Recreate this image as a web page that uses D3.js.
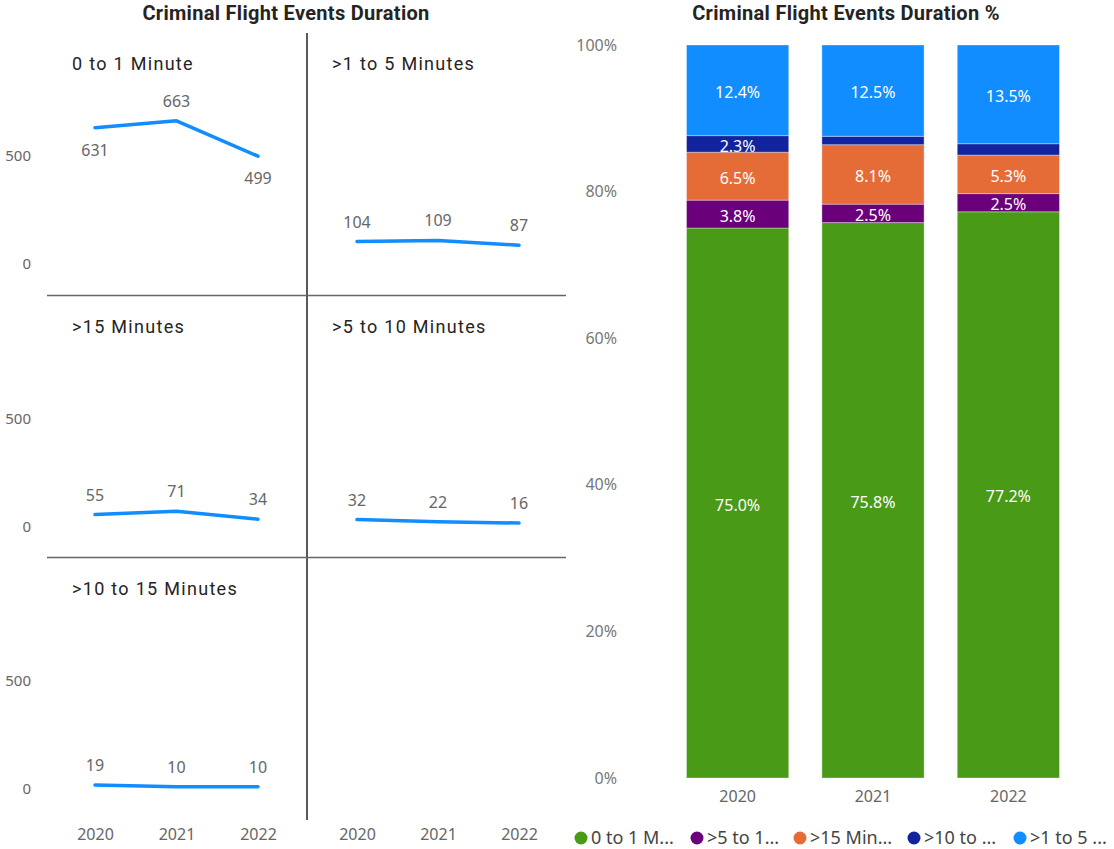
<!DOCTYPE html>
<html><head><meta charset="utf-8">
<script src="https://cdn.jsdelivr.net/npm/d3@7/dist/d3.min.js"></script>
<style>
body{margin:0;background:#fff;}
svg{display:block;}
</style></head>
<body>
<svg id="c" width="1114" height="849"></svg>
<script>
// ---------- DATA ----------
const years = ["2020", "2021", "2022"];
const cat01 = [631, 663, 499];     // 0 to 1 Minute
const cat1to5 = [104, 109, 87];    // >1 to 5 Minutes
const cat15plus = [55, 71, 34];    // >15 Minutes
const cat5to10 = [32, 22, 16];     // >5 to 10 Minutes
const cat10to15 = [19, 10, 10];    // >10 to 15 Minutes
const seriesNames = ["0 to 1 Minute", ">1 to 5 Minutes", ">15 Minutes", ">5 to 10 Minutes", ">10 to 15 Minutes"];
const legendLabels = ["0 to 1 M...", ">5 to 1...", ">15 Min...", ">10 to ...", ">1 to 5 ..."];
const yTicksLine = [0, 500];
const yTicksPct = [0, 0.2, 0.4, 0.6, 0.8, 1.0];

const seriesValues = {
  "0 to 1 Minute": cat01,
  ">1 to 5 Minutes": cat1to5,
  ">15 Minutes": cat15plus,
  ">5 to 10 Minutes": cat5to10,
  ">10 to 15 Minutes": cat10to15
};
// stack order bottom -> top
const stackOrder = ["0 to 1 Minute", ">5 to 10 Minutes", ">15 Minutes", ">10 to 15 Minutes", ">1 to 5 Minutes"];
const colors = {
  "0 to 1 Minute": "#489A17",
  ">5 to 10 Minutes": "#6B007B",
  ">15 Minutes": "#E66C37",
  ">10 to 15 Minutes": "#12239E",
  ">1 to 5 Minutes": "#118DFF"
};
const belowLabel = {"0 to 1 Minute": [true, false, true]};

const svg = d3.select("#c");
const uiFont = "'Segoe UI','Noto Sans','Open Sans',sans-serif";
const titleFont = "Roboto, 'DejaVu Sans', sans-serif";

// ---------- LEFT: small multiples ----------
svg.append("text").attr("x", 286).attr("y", 20).attr("text-anchor", "middle")
  .attr("font-family", titleFont).attr("font-weight", 700).attr("font-size", 20).attr("letter-spacing", 0.3)
  .attr("fill", "#252423").text("Criminal Flight Events Duration");

const colX = [47, 307];
const rowH = 262.5;
const xRanges = [[95, 258], [357, 519]];

// grid lines
svg.append("line").attr("x1", 307).attr("x2", 307).attr("y1", 33).attr("y2", 820)
  .attr("stroke", "#222").attr("stroke-width", 1.5);
[295.5, 557.5].forEach(y => svg.append("line").attr("x1", 47).attr("x2", 566).attr("y1", y).attr("y2", y)
  .attr("stroke", "#666").attr("stroke-width", 1.5));

const yLine = d3.scaleLinear().domain([0, 500]).range([264, 156]);

// y axes per row
for (let r = 0; r < 3; r++) {
  const g = svg.append("g").attr("transform", `translate(31,${r * rowH})`);
  const ax = d3.axisLeft(yLine).tickValues(yTicksLine).tickSize(0).tickPadding(0);
  g.call(ax);
  g.select(".domain").remove();
  g.selectAll("text").attr("font-family", uiFont).attr("font-size", 15).attr("fill", "#666").attr("dy", "0.32em");
}

// x axes bottom
xRanges.forEach(rg => {
  const xs = d3.scalePoint().domain(years).range(rg);
  const g = svg.append("g").attr("transform", "translate(0,829)");
  g.call(d3.axisBottom(xs).tickSize(0).tickPadding(0));
  g.select(".domain").remove();
  g.selectAll("text").attr("font-family", uiFont).attr("font-size", 16).attr("fill", "#666").attr("dy", "0.71em");
});

seriesNames.forEach((name, i) => {
  const c = i % 2, r = Math.floor(i / 2);
  const vals = seriesValues[name];
  const xs = d3.scalePoint().domain(years).range(xRanges[c]);
  const g = svg.append("g").attr("transform", `translate(0,${r * rowH})`);
  g.append("text").attr("x", colX[c] + 25).attr("y", 70)
    .attr("font-family", titleFont).attr("font-size", 18).attr("letter-spacing", 1.3)
    .attr("fill", "#252423").text(name);
  const line = d3.line().x((d, j) => xs(years[j])).y(d => yLine(d)).curve(d3.curveLinear);
  g.append("path").datum(vals).attr("d", line).attr("fill", "none")
    .attr("stroke", "#118DFF").attr("stroke-width", 3.5).attr("stroke-linecap", "round").attr("stroke-linejoin", "round");
  vals.forEach((v, j) => {
    const below = belowLabel[name] ? belowLabel[name][j] : false;
    g.append("text").attr("x", xs(years[j])).attr("y", yLine(v) + (below ? 28 : -14))
      .attr("text-anchor", "middle").attr("font-family", uiFont).attr("font-size", 16)
      .attr("fill", "#666").text(v);
  });
});

// ---------- RIGHT: 100% stacked ----------
svg.append("text").attr("x", 846).attr("y", 20).attr("text-anchor", "middle")
  .attr("font-family", titleFont).attr("font-weight", 700).attr("font-size", 20).attr("letter-spacing", 0.3)
  .attr("fill", "#252423").text("Criminal Flight Events Duration %");

const xb = d3.scaleBand().domain(years).range([652, 1094]).paddingInner(0.245).paddingOuter(0.255);
const yb = d3.scaleLinear().domain([0, 1]).range([778, 45]);

const tableRows = years.map((y, j) => {
  const row = {year: y};
  const tot = seriesNames.reduce((s, n) => s + seriesValues[n][j], 0);
  seriesNames.forEach(n => row[n] = seriesValues[n][j] / tot);
  return row;
});
const stacked = d3.stack().keys(stackOrder)(tableRows);

const ga = svg.append("g").attr("transform", "translate(617,0)");
ga.call(d3.axisLeft(yb).tickValues(yTicksPct).tickFormat(d3.format(".0%")).tickSize(0).tickPadding(0));
ga.select(".domain").remove();
ga.selectAll("text").attr("font-family", uiFont).attr("font-size", 16).attr("fill", "#777").attr("dy", "0.32em");

const gx = svg.append("g").attr("transform", "translate(0,791)");
gx.call(d3.axisBottom(xb).tickSize(0).tickPadding(0));
gx.select(".domain").remove();
gx.selectAll("text").attr("font-family", uiFont).attr("font-size", 16).attr("fill", "#666").attr("dy", "0.71em");

stacked.forEach(layer => {
  const k = layer.key;
  layer.forEach(d => {
    svg.append("rect").attr("x", xb(d.data.year)).attr("width", xb.bandwidth())
      .attr("y", yb(d[1])).attr("height", yb(d[0]) - yb(d[1]))
      .attr("fill", colors[k]).attr("stroke", "#fff").attr("stroke-opacity", 0.35).attr("stroke-width", 1);
    const h = yb(d[0]) - yb(d[1]);
    if (h >= 14) {
      svg.append("text").attr("x", xb(d.data.year) + xb.bandwidth() / 2)
        .attr("y", (yb(d[0]) + yb(d[1])) / 2 + 2).attr("dy", "0.35em")
        .attr("text-anchor", "middle").attr("font-family", uiFont).attr("font-size", 16)
        .attr("fill", "#fff").text(d3.format(".1%")(d[1] - d[0]));
    }
  });
});

// legend
const legX = [581, 697, 800, 914, 1020];
stackOrder.forEach((k, i) => {
  svg.append("circle").attr("cx", legX[i]).attr("cy", 838).attr("r", 6.5).attr("fill", colors[k]);
  svg.append("text").attr("x", legX[i] + 10).attr("y", 838).attr("dy", "0.35em")
    .attr("font-family", uiFont).attr("font-size", 18).attr("fill", "#444").text(legendLabels[i]);
});
</script>
</body></html>
